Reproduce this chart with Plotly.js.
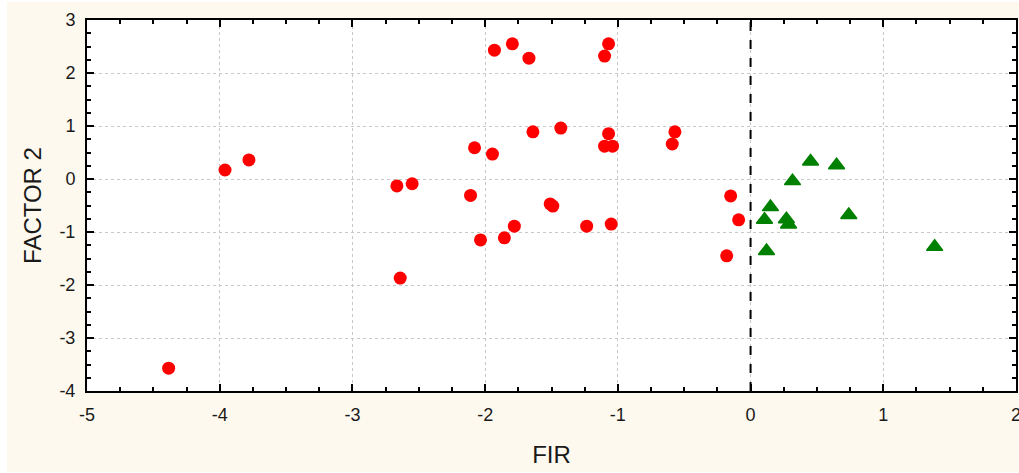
<!DOCTYPE html>
<html>
<head>
<meta charset="utf-8">
<script src="https://cdn.plot.ly/plotly-3.0.1.min.js"></script>
<style>
  html, body { margin: 0; padding: 0; background: #ffffff; width: 1019px; height: 473px; overflow: hidden; }
  #chart { position: absolute; left: 7px; top: 2px; width: 1012px; height: 470px; }
</style>
</head>
<body>
<div id="chart"></div>
<script>
// Group 1 (red circles, FIR < 0)
const redX = [-3.96, -3.78, -4.385, -2.665, -2.55, -2.64, -2.08, -1.945, -2.11, -2.035,
              -1.855, -1.78, -1.93, -1.795, -1.67, -1.64, -1.43, -1.51, -1.49, -1.235,
              -1.07, -1.10, -1.07, -1.10, -1.04, -1.05, -0.57, -0.59, -0.15, -0.09, -0.18];
const redY = [0.17, 0.36, -3.57, -0.13, -0.09, -1.87, 0.59, 0.47, -0.31, -1.15,
              -1.11, -0.89, 2.43, 2.55, 2.28, 0.89, 0.96, -0.47, -0.51, -0.89,
              2.55, 2.32, 0.855, 0.62, 0.62, -0.85, 0.89, 0.66, -0.32, -0.77, -1.45];
// Group 2 (green triangles, FIR > 0)
const greenX = [0.452, 0.648, 0.316, 0.15, 0.105, 0.27, 0.286, 0.74, 0.12, 1.387];
const greenY = [0.33, 0.26, -0.04, -0.53, -0.77, -0.76, -0.86, -0.68, -1.36, -1.28];

const xTicks = [-5, -4, -3, -2, -1, 0, 1, 2];
const yTicks = [-4, -3, -2, -1, 0, 1, 2, 3];
const xTitle = 'FIR';
const yTitle = 'FACTOR 2';

const font = "'Liberation Sans', Arial, Helvetica, sans-serif";

const traces = [
  {
    x: redX, y: redY, type: 'scatter', mode: 'markers', name: 'Group 1',
    marker: { symbol: 'circle', size: 13, color: '#ff0000' },
    cliponaxis: false
  },
  {
    x: greenX, y: greenY, type: 'scatter', mode: 'markers', name: 'Group 2',
    marker: { symbol: 'triangle-up', size: 14, color: '#008000', line: { color: '#008000', width: 1.5 } },
    cliponaxis: false
  }
];

const axisCommon = {
  showline: true, linecolor: '#000000', linewidth: 2, mirror: 'ticks',
  ticks: 'inside', ticklen: 7, tickwidth: 2, tickcolor: '#000000',
  showgrid: true, gridcolor: '#c8c8c8', gridwidth: 1, griddash: 'dot',
  zeroline: false,
  minor: { ticks: 'inside', ticklen: 4, tickwidth: 2, tickcolor: '#000000', dtick: 0.25, showgrid: false },
  tickfont: { family: font, size: 18, color: '#1a1a1a' },
  ticklabeloverflow: 'allow'
};

const layout = {
  width: 1012, height: 470,
  paper_bgcolor: '#fef9ee',
  plot_bgcolor: '#ffffff',
  margin: { l: 80, r: 3, t: 18, b: 81 },
  showlegend: false,
  font: { family: font, color: '#1a1a1a' },
  xaxis: Object.assign({}, axisCommon, {
    range: [-5, 2], tickvals: xTicks, ticktext: xTicks.map(String),
    ticklabelstandoff: 6,
    title: { text: xTitle, font: { family: font, size: 24, color: '#1a1a1a' }, standoff: 23 }
  }),
  yaxis: Object.assign({}, axisCommon, {
    range: [-4, 3], tickvals: yTicks, ticktext: yTicks.map(String),
    ticklabelstandoff: 6,
    title: { text: yTitle, font: { family: font, size: 24, color: '#1a1a1a' }, standoff: 11 }
  }),
  shapes: [
    { type: 'line', xref: 'x', yref: 'paper', x0: 0, x1: 0, y0: 0, y1: 1,
      line: { color: '#000000', width: 2, dash: 'dash' }, layer: 'above' }
  ]
};

Plotly.newPlot('chart', traces, layout, { displayModeBar: false, staticPlot: true });
</script>
</body>
</html>
